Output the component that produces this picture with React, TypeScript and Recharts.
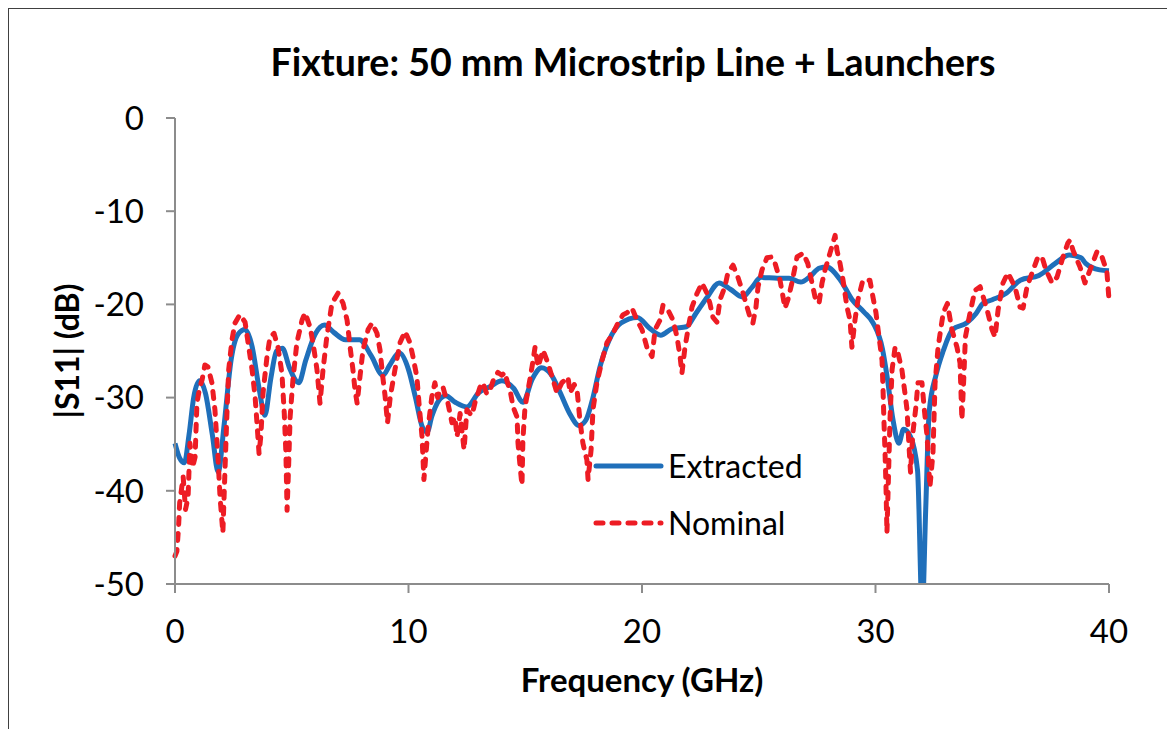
import { LineChart, Line, XAxis, YAxis, Legend } from 'recharts'

// |S11| in dB vs frequency in GHz
const extracted: [number, number][] = [
  [0, -34.9], [0.2, -36.5], [0.4, -37], [0.6, -34], [0.8, -30], [1.05, -28.2], [1.3, -29.5],
  [1.6, -34], [1.85, -38], [2.1, -33], [2.4, -26], [2.7, -23.2], [3.0, -22.7], [3.3, -24.5],
  [3.6, -29], [3.85, -31.9], [4.1, -28], [4.35, -25], [4.6, -24.7], [4.9, -26.8], [5.3, -28.4],
  [5.6, -26], [6.0, -23.2], [6.4, -22.2], [6.8, -23], [7.3, -23.8], [7.9, -23.8], [8.4, -25.5],
  [8.9, -27.6], [9.2, -26.5], [9.6, -25.2], [10.0, -27], [10.3, -30], [10.6, -33.2], [10.8, -33.7],
  [11.0, -32], [11.3, -30.3], [11.6, -29.8], [12.0, -30.5], [12.5, -31], [13.0, -29.5],
  [13.5, -28.8], [14.0, -28.2], [14.5, -29], [14.9, -30.5], [15.3, -28], [15.7, -26.8],
  [16.1, -27.5], [16.5, -29.5], [16.9, -31.7], [17.3, -33], [17.6, -32.4], [17.9, -30],
  [18.2, -26.7], [18.6, -23.8], [19.1, -22], [19.8, -21.4], [20.3, -22.5], [20.8, -23.3],
  [21.3, -22.6], [21.9, -22.4], [22.3, -21], [22.8, -19.2], [23.3, -17.7], [23.8, -18.4],
  [24.3, -19.2], [24.7, -18.2], [25.1, -17.1], [25.8, -17.2], [26.3, -17.2], [26.8, -17.6],
  [27.2, -17], [27.6, -16.1], [27.9, -16], [28.5, -17.4], [29.0, -19.5], [29.5, -20.8],
  [29.9, -22], [30.3, -24.8], [30.5, -27.8], [30.75, -32.4], [31.0, -34.9], [31.2, -33.4],
  [31.5, -34.2], [31.8, -37.8], [32.0, -53], [32.15, -42], [32.3, -31.5], [32.6, -27.5],
  [32.9, -25], [33.3, -22.7], [33.9, -22], [34.3, -21], [34.6, -19.9], [35.0, -19.5],
  [35.6, -18.8], [36.2, -17.4], [37.0, -16.9], [37.7, -15.6], [38.3, -14.7], [38.8, -15],
  [39.0, -15.6], [39.6, -16.3], [40.0, -16.4],
]

const nominal: [number, number][] = [
  [0, -47], [0.08, -46.5], [0.15, -44], [0.2, -41.3], [0.35, -38.5], [0.45, -42], [0.56, -40.7],
  [0.64, -34.9], [0.75, -37.5], [0.86, -36.4], [0.94, -30.6], [1.05, -29], [1.16, -28.1],
  [1.28, -26.5], [1.41, -26.7], [1.58, -28.4], [1.71, -31.3], [1.84, -36.4], [1.93, -40.7],
  [2.05, -44.5], [2.14, -37.8], [2.23, -31.3], [2.3, -27], [2.44, -23.8], [2.57, -22],
  [2.78, -21.1], [3.0, -21.9], [3.13, -24.1], [3.3, -27], [3.43, -29.9], [3.51, -32.7],
  [3.6, -36], [3.68, -34], [3.77, -29.5], [3.94, -25.6], [4.07, -23.5], [4.24, -23.1],
  [4.41, -24.6], [4.58, -27.4], [4.68, -31.7], [4.75, -36], [4.8, -42.1], [4.86, -37.8],
  [4.93, -32.1], [5.05, -28.1], [5.22, -24.1], [5.44, -21.7], [5.57, -20.9], [5.78, -22.4],
  [5.91, -24.1], [6.08, -27], [6.21, -30.6], [6.34, -27], [6.5, -23.5], [6.72, -19.9],
  [6.98, -18.8], [7.2, -19.9], [7.37, -21.7], [7.5, -24.6], [7.62, -27], [7.71, -29.2],
  [7.8, -30.6], [7.92, -27.8], [8.05, -24.9], [8.27, -22.7], [8.44, -22], [8.65, -23.1],
  [8.78, -24.9], [8.9, -27.8], [9.0, -29.9], [9.1, -32.7], [9.22, -29.9], [9.42, -27],
  [9.64, -24.1], [9.85, -22.9], [10.06, -24.1], [10.19, -25.6], [10.36, -27.8], [10.45, -30.6],
  [10.58, -34.2], [10.66, -38.8], [10.75, -36], [10.84, -33.2], [11.0, -29.9], [11.13, -28.4],
  [11.25, -30], [11.35, -29.2], [11.48, -28.9], [11.6, -30], [11.69, -30.6], [11.86, -32.7],
  [11.99, -32.1], [12.08, -34.2], [12.21, -31.7], [12.38, -35.6], [12.5, -31.3], [12.63, -31.7],
  [12.72, -31.9], [12.85, -30.5], [12.93, -29.9], [13.06, -28.9], [13.19, -28.4], [13.35, -29.6],
  [13.49, -29.2], [13.65, -28], [13.83, -27.3], [14.0, -27.6], [14.13, -27.3], [14.25, -28.5],
  [14.35, -29.2], [14.48, -31], [14.65, -32.1], [14.69, -34.9], [14.78, -37.4], [14.86, -39.4],
  [14.9, -34.5], [14.99, -31], [15.12, -29.2], [15.29, -26.7], [15.42, -24.6], [15.55, -26.7],
  [15.76, -24.9], [15.97, -26.3], [16.19, -28.1], [16.36, -29.5], [16.57, -28.4], [16.83, -27.8],
  [16.92, -29.5], [17.1, -28.6], [17.22, -29.2], [17.34, -32.4], [17.47, -34.9], [17.64, -36.7],
  [17.69, -38.8], [17.82, -35.6], [17.9, -31.3], [18.07, -28.4], [18.29, -26], [18.5, -24.1],
  [18.76, -23.1], [18.97, -22], [19.19, -21.1], [19.36, -20.9], [19.57, -20.4], [19.79, -21.7],
  [20.0, -22.7], [20.21, -24.6], [20.43, -25.6], [20.56, -22.7], [20.77, -21.7], [20.9, -20.1],
  [21.11, -20.6], [21.33, -21.7], [21.5, -23.5], [21.63, -25.6], [21.71, -27.4], [21.84, -24.6],
  [21.97, -22.7], [22.14, -20.3], [22.36, -18.8], [22.57, -17.7], [22.78, -18.8], [22.91, -19.9],
  [23.04, -21.4], [23.21, -21.9], [23.34, -19.5], [23.55, -18.1], [23.68, -16.6], [23.9, -15.8],
  [24.11, -17.1], [24.33, -18.8], [24.5, -20.3], [24.63, -21.4], [24.75, -22], [24.88, -20.3],
  [24.97, -18.1], [25.14, -16.3], [25.35, -15], [25.57, -14.9], [25.7, -15.6], [25.91, -17.4],
  [26.04, -19.2], [26.12, -20.4], [26.25, -19.5], [26.42, -17.7], [26.64, -14.9], [26.9, -14.5],
  [27.1, -15.6], [27.28, -17.7], [27.41, -19.2], [27.58, -19.9], [27.71, -17.7], [27.84, -16.3],
  [28.05, -14.5], [28.27, -12.6], [28.35, -14.2], [28.48, -15.6], [28.61, -17.4], [28.78, -20.3],
  [28.91, -21.7], [28.99, -24.6], [29.12, -21.7], [29.25, -19.5], [29.46, -17.4], [29.76, -17.4],
  [29.89, -19.2], [30.02, -20.9], [30.11, -22.7], [30.28, -26], [30.32, -28.9], [30.36, -32.4],
  [30.41, -36], [30.45, -39.6], [30.49, -44.5], [30.55, -39], [30.62, -32.4], [30.71, -27],
  [30.84, -24.6], [30.96, -25.2], [31.13, -27], [31.26, -29.5], [31.35, -31.3], [31.43, -35],
  [31.5, -38], [31.6, -33.8], [31.73, -31], [31.82, -28.4], [31.99, -28.4], [32.08, -31],
  [32.21, -34.2], [32.33, -39.6], [32.46, -36], [32.55, -28.5], [32.68, -24.6], [32.9, -20.9],
  [33.08, -19.9], [33.27, -22.7], [33.49, -24.6], [33.62, -26.3], [33.7, -32.4], [33.78, -28],
  [33.85, -23.5], [34.05, -20.9], [34.26, -18.5], [34.48, -18.1], [34.78, -20.6], [34.99, -22.7],
  [35.12, -23.5], [35.25, -20.6], [35.46, -17.7], [35.67, -16.6], [35.97, -18.1], [36.19, -20.3],
  [36.32, -20.4], [36.49, -18.1], [36.75, -16.3], [36.96, -14.9], [37.13, -14.9], [37.3, -16.3],
  [37.56, -17.7], [37.77, -17.1], [38.03, -14.9], [38.24, -13.4], [38.33, -13.1], [38.46, -14.2],
  [38.76, -16], [38.97, -17.7], [39.19, -16.3], [39.49, -14.3], [39.7, -14.9], [39.91, -16.5],
  [40.0, -19.5],
]

const xTicks = [0, 10, 20, 30, 40]
const yTicks = [0, -10, -20, -30, -40, -50]

const FONT = 'Lato, "Open Sans", sans-serif'
const BLUE = '#1f6fba'
const RED = '#ed1c24'
const AXIS = '#8c8c8c'

const toRows = (pts: [number, number][]) => pts.map(([f, db]) => ({ f, db }))

function LegendBox({ payload }: any) {
  return (
    <div style={{ fontFamily: FONT, fontSize: 32, color: '#000' }}>
      {(payload ?? []).map((entry: any) => (
        <div key={entry.value} style={{ display: 'flex', alignItems: 'center', height: 57 }}>
          <svg width={72} height={10}>
            <line
              x1={3}
              x2={68}
              y1={5}
              y2={5}
              stroke={entry.color}
              strokeWidth={5}
              strokeLinecap="round"
              strokeDasharray={entry.payload?.strokeDasharray}
            />
          </svg>
          <span style={{ marginLeft: 3 }}>{entry.value}</span>
        </div>
      ))}
    </div>
  )
}

export default function App() {
  const tickStyle = { fontFamily: FONT, fontSize: 33, fill: '#000' }
  return (
    <div
      style={{
        position: 'relative',
        width: 1163,
        height: 740,
        border: '1px solid #404040',
        background: '#fff',
      }}
    >
      <div
        style={{
          position: 'absolute',
          left: 174,
          top: 31,
          width: 900,
          textAlign: 'center',
          fontFamily: FONT,
          fontWeight: 700,
          fontSize: 37.5,
          lineHeight: '44px',
          color: '#000',
        }}
      >
        Fixture: 50 mm Microstrip Line + Launchers
      </div>
      <LineChart width={1163} height={720} margin={{ top: 109, right: 63, bottom: 25, left: 0 }}>
        <XAxis
          dataKey="f"
          type="number"
          domain={[0, 40]}
          ticks={xTicks}
          tickSize={9}
          tickMargin={27}
          height={120}
          stroke={AXIS}
          strokeWidth={2}
          tick={tickStyle}
          label={{
            value: 'Frequency (GHz)',
            position: 'insideBottom',
            offset: 12,
            style: { fontFamily: FONT, fontSize: 33, fontWeight: 700, fill: '#000' },
          }}
        />
        <YAxis
          dataKey="db"
          type="number"
          domain={[-50, 0]}
          allowDataOverflow
          ticks={yTicks}
          tickSize={9}
          tickMargin={22}
          width={166}
          stroke={AXIS}
          strokeWidth={2}
          tick={tickStyle}
          label={{
            value: '|S11| (dB)',
            angle: -90,
            position: 'insideLeft',
            offset: 59,
            style: { textAnchor: 'middle', fontFamily: FONT, fontSize: 32, fontWeight: 700, fill: '#000' },
          }}
        />
        <Legend
          layout="vertical"
          verticalAlign="middle"
          align="center"
          wrapperStyle={{ left: 584, top: 428, width: 260 }}
          content={LegendBox}
        />
        <Line
          data={toRows(extracted)}
          dataKey="db"
          name="Extracted"
          type="monotone"
          stroke={BLUE}
          strokeWidth={5}
          dot={false}
          isAnimationActive={false}
        />
        <Line
          data={toRows(nominal)}
          dataKey="db"
          name="Nominal"
          type="linear"
          stroke={RED}
          strokeWidth={5}
          strokeLinecap="round"
          strokeLinejoin="round"
          strokeDasharray="7 9"
          dot={false}
          isAnimationActive={false}
        />
      </LineChart>
    </div>
  )
}
